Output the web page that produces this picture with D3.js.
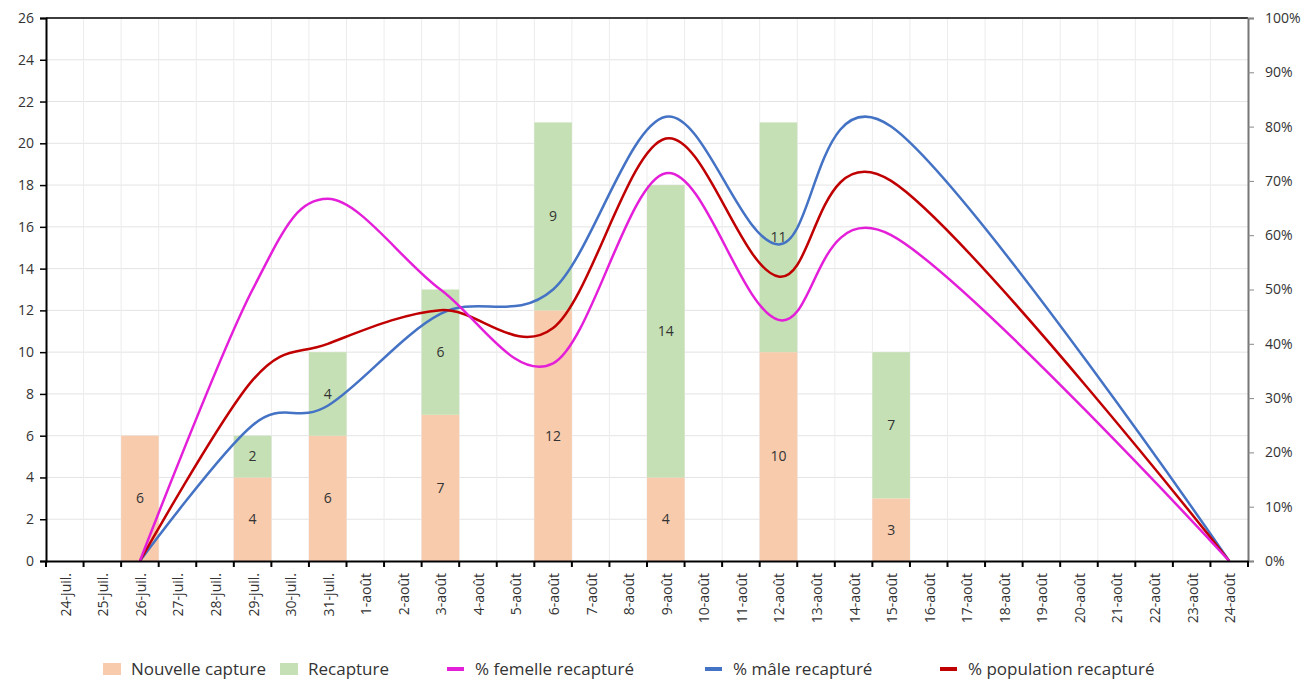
<!DOCTYPE html>
<html>
<head>
<meta charset="utf-8">
<script src="https://cdn.jsdelivr.net/npm/d3@7"></script>
<style>
  body { margin: 0; background: #fff; }
  svg text { font-family: "Open Sans", "Noto Sans", sans-serif; fill: #333; }
</style>
</head>
<body>
<div id="chart"></div>
<script>
// ── Data ──────────────────────────────────────────────────────────────────
const DATES = [
  "24-juil.", "25-juil.", "26-juil.", "27-juil.", "28-juil.", "29-juil.", "30-juil.", "31-juil.",
  "1-août", "2-août", "3-août", "4-août", "5-août", "6-août", "7-août", "8-août",
  "9-août", "10-août", "11-août", "12-août", "13-août", "14-août", "15-août", "16-août",
  "17-août", "18-août", "19-août", "20-août", "21-août", "22-août", "23-août", "24-août"
];

// capture days (bars)
const BAR_DATES   = ["26-juil.", "29-juil.", "31-juil.", "3-août", "6-août", "9-août", "12-août", "15-août"];
const NOUVELLE    = [6, 4, 6, 7, 12, 4, 10, 3];
const RECAPTURE   = [0, 2, 4, 6, 9, 14, 11, 7];

// % recaptured (lines)
const LINE_DATES  = ["26-juil.", "29-juil.", "31-juil.", "3-août", "6-août", "9-août", "12-août", "15-août", "24-août"];
const PCT_FEMELLE = [0, 0.50, 0.667, 0.50, 0.364, 0.714, 0.444, 0.60, 0];
const PCT_MALE    = [0, 0.25, 0.286, 0.455, 0.50, 0.818, 0.583, 0.80, 0];
const PCT_POP     = [0, 0.333, 0.40, 0.462, 0.429, 0.778, 0.524, 0.70, 0];

const Y_TICKS  = d3.range(0, 27, 2);
const Y2_TICKS = d3.range(0, 1.01, 0.1);

const COLORS = {
  nouvelle:   "#F8CBAD",
  recapture:  "#C5E0B4",
  femelle:    "#E41FD9",
  male:       "#4472C4",
  population: "#C00000"
};

const LEGEND = [
  { label: "Nouvelle capture",       key: "nouvelle",   type: "rect", x: 103 },
  { label: "Recapture",              key: "recapture",  type: "rect", x: 280 },
  { label: "% femelle recapturé",    key: "femelle",    type: "line", x: 447 },
  { label: "% mâle recapturé",       key: "male",       type: "line", x: 705 },
  { label: "% population recapturé", key: "population", type: "line", x: 940 }
];

// ── Layout ────────────────────────────────────────────────────────────────
const W = 1316, H = 680;
const margin = { top: 18, right: 68, bottom: 119, left: 46 };
const width  = W - margin.left - margin.right;
const height = H - margin.top - margin.bottom;

const svg = d3.select("#chart").append("svg")
  .attr("width", W).attr("height", H);

const g = svg.append("g")
  .attr("transform", `translate(${margin.left},${margin.top})`);

const x = d3.scaleBand().domain(DATES).range([0, width]).padding(0);
const y = d3.scaleLinear().domain([0, 26]).range([height, 0]);
const y2 = d3.scaleLinear().domain([0, 1]).range([height, 0]);
const cx = d => x(d) + x.bandwidth() / 2;

// gridlines
g.append("g").selectAll("line.h")
  .data(Y_TICKS.slice(1))
  .enter().append("line")
    .attr("x1", 0).attr("x2", width)
    .attr("y1", d => y(d)).attr("y2", d => y(d))
    .attr("stroke", "#e4e4e4").attr("stroke-width", 1);

g.append("g").selectAll("line.v")
  .data(DATES.slice(1))
  .enter().append("line")
    .attr("x1", d => x(d)).attr("x2", d => x(d))
    .attr("y1", 0).attr("y2", height)
    .attr("stroke", "#ececec").attr("stroke-width", 1);

// stacked bars
const barData = BAR_DATES.map((d, i) => ({ date: d, n: NOUVELLE[i], r: RECAPTURE[i] }));

g.selectAll("rect.nouvelle")
  .data(barData)
  .enter().append("rect")
    .attr("x", d => x(d.date))
    .attr("width", x.bandwidth())
    .attr("y", d => y(d.n))
    .attr("height", d => y(0) - y(d.n))
    .attr("fill", COLORS.nouvelle);

g.selectAll("rect.recap")
  .data(barData.filter(d => d.r > 0))
  .enter().append("rect")
    .attr("x", d => x(d.date))
    .attr("width", x.bandwidth())
    .attr("y", d => y(d.n + d.r))
    .attr("height", d => y(d.n) - y(d.n + d.r))
    .attr("fill", COLORS.recapture);

// bar labels
g.selectAll("text.lblN")
  .data(barData)
  .enter().append("text")
    .attr("x", d => cx(d.date))
    .attr("y", d => y(d.n / 2))
    .attr("dy", "0.35em")
    .attr("text-anchor", "middle")
    .style("font-size", "14px")
    .text(d => d.n);

g.selectAll("text.lblR")
  .data(barData.filter(d => d.r > 0))
  .enter().append("text")
    .attr("x", d => cx(d.date))
    .attr("y", d => y(d.n + d.r / 2))
    .attr("dy", "0.35em")
    .attr("text-anchor", "middle")
    .style("font-size", "14px")
    .text(d => d.r);

// smoothed lines
const line = d3.line()
  .x(d => cx(d.date))
  .y(d => y2(d.v))
  .curve(d3.curveCatmullRom.alpha(0));

[
  { key: "male",       vals: PCT_MALE },
  { key: "population", vals: PCT_POP },
  { key: "femelle",    vals: PCT_FEMELLE }
].forEach(s => {
  g.append("path")
    .datum(LINE_DATES.map((d, i) => ({ date: d, v: s.vals[i] })))
    .attr("fill", "none")
    .attr("stroke", COLORS[s.key])
    .attr("stroke-width", 2.5)
    .attr("d", line);
});

// top border
g.append("line")
  .attr("x1", 0).attr("x2", width).attr("y1", 0).attr("y2", 0)
  .attr("stroke", "#000").attr("stroke-width", 1.5);

// left axis
const yAxisG = g.append("g")
  .call(d3.axisLeft(y).tickValues(Y_TICKS).tickSize(6).tickPadding(6));
yAxisG.select("path.domain").attr("stroke", "#000").attr("stroke-width", 2);
yAxisG.selectAll(".tick line").attr("stroke", "#000").attr("stroke-width", 1.5);
yAxisG.selectAll("text").style("font-size", "14px").style("font-family", "'Open Sans', sans-serif").attr("fill", "#333");

// right axis
const y2AxisG = g.append("g")
  .attr("transform", `translate(${width},0)`)
  .call(d3.axisRight(y2).tickValues(Y2_TICKS).tickFormat(d3.format(".0%")).tickSize(6).tickPadding(11));
y2AxisG.select("path.domain").attr("stroke", "#777").attr("stroke-width", 2);
y2AxisG.selectAll(".tick line").attr("stroke", "#888").attr("stroke-width", 1);
y2AxisG.selectAll("text").style("font-size", "14px").style("font-family", "'Open Sans', sans-serif").attr("fill", "#333");

// bottom axis
const xAxisG = g.append("g")
  .attr("transform", `translate(0,${height})`)
  .call(d3.axisBottom(x).tickSize(0).tickPadding(0));
xAxisG.select("path.domain").attr("stroke", "#000").attr("stroke-width", 2);
xAxisG.selectAll("text")
  .style("font-size", "14px").style("font-family", "'Open Sans', sans-serif").attr("fill", "#333")
  .attr("text-anchor", "end")
  .attr("transform", "translate(1,12) rotate(-90)")
  .attr("x", 0).attr("y", 0).attr("dy", "0.35em");

// tick marks at category boundaries
xAxisG.selectAll("line.bound")
  .data(DATES.concat(["end"]))
  .enter().append("line")
    .attr("x1", (d, i) => i * x.step()).attr("x2", (d, i) => i * x.step())
    .attr("y1", 0).attr("y2", 6)
    .attr("stroke", "#000").attr("stroke-width", 2);

// legend
const leg = svg.append("g").attr("transform", "translate(0,669)");
LEGEND.forEach(l => {
  if (l.type === "rect") {
    leg.append("rect")
      .attr("x", l.x).attr("y", -6).attr("width", 18).attr("height", 12)
      .attr("fill", COLORS[l.key]);
  } else {
    leg.append("line")
      .attr("x1", l.x).attr("x2", l.x + 17).attr("y1", 0).attr("y2", 0)
      .attr("stroke", COLORS[l.key]).attr("stroke-width", 4);
  }
  leg.append("text")
    .attr("x", l.x + 28).attr("y", 0).attr("dy", "0.35em")
    .style("font-size", "17px")
    .text(l.label);
});
</script>
</body>
</html>
